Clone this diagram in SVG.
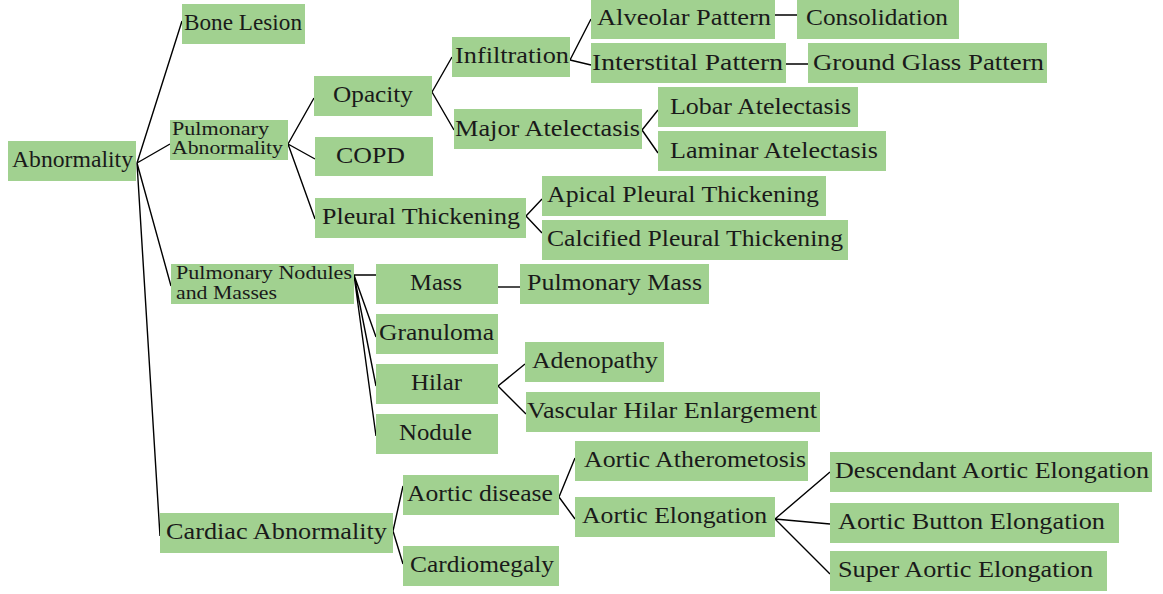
<svg xmlns="http://www.w3.org/2000/svg" width="1163" height="594" viewBox="0 0 1163 594">
<style>
rect{fill:#a1d190}
text{font-family:"Liberation Serif","Times New Roman",serif;font-size:22.5px;fill:#1a1a1a;text-anchor:middle}
text.s{font-size:18px;text-anchor:start}
#edges path{fill:none;stroke:#000;stroke-width:1.4}
</style>
<rect x="0" y="0" width="1163" height="594" style="fill:#fff"/>
<g id="edges">
<path d="M137,163 L182,21 M137,163 L170,144 M137,163 L171,286 M137,163 L160,536"/>
<path d="M288,144 L314,98 M288,144 L315,159 M288,144 L315,219"/>
<path d="M432,92 L452,57 M432,92 L454,130"/>
<path d="M570,60 L591,19 M570,60 L591,65"/>
<path d="M775,15 L797,15 M786,64 L808,64"/>
<path d="M642,130 L658,110 M642,130 L658,153"/>
<path d="M526,216 L542,199 M526,216 L542,233"/>
<path d="M354,275 L376,275 M354,275 L376,337 M354,275 L376,386 M354,275 L376,436"/>
<path d="M498,287 L520,287"/>
<path d="M498,386 L525,364 M498,386 L526,414"/>
<path d="M393,531 L403,486 M393,531 L403,564"/>
<path d="M559,497 L575,458 M559,497 L575,519"/>
<path d="M775,519 L830,472 M775,519 L830,524 M775,519 L830,574"/>
</g>
<g id="abnormality"><rect x="8" y="141" width="128" height="40"/><text x="72.5" y="167" textLength="121" lengthAdjust="spacingAndGlyphs">Abnormality</text></g>
<g id="bone-lesion"><rect x="182" y="4" width="123" height="40"/><text x="243" y="30" textLength="118" lengthAdjust="spacingAndGlyphs">Bone Lesion</text></g>
<g id="pulmonary-abnormality"><rect x="170" y="120" width="118" height="40"/><text class="s" x="172" y="135" textLength="97" lengthAdjust="spacingAndGlyphs">Pulmonary</text><text class="s" x="172" y="154" textLength="111" lengthAdjust="spacingAndGlyphs">Abnormality</text></g>
<g id="opacity"><rect x="314" y="76" width="118" height="40"/><text x="373" y="102" textLength="80" lengthAdjust="spacingAndGlyphs">Opacity</text></g>
<g id="copd"><rect x="315" y="137" width="118" height="39"/><text x="370.5" y="163" textLength="69" lengthAdjust="spacingAndGlyphs">COPD</text></g>
<g id="pleural-thickening"><rect x="315" y="198" width="211" height="40"/><text x="421" y="224" textLength="198" lengthAdjust="spacingAndGlyphs">Pleural Thickening</text></g>
<g id="infiltration"><rect x="452" y="37" width="118" height="40"/><text x="512" y="63" textLength="114" lengthAdjust="spacingAndGlyphs">Infiltration</text></g>
<g id="alveolar-pattern"><rect x="591" y="-1" width="184" height="40"/><text x="684" y="25" textLength="174" lengthAdjust="spacingAndGlyphs">Alveolar Pattern</text></g>
<g id="consolidation"><rect x="797" y="-1" width="162" height="40"/><text x="877" y="25" textLength="142" lengthAdjust="spacingAndGlyphs">Consolidation</text></g>
<g id="interstital-pattern"><rect x="591" y="43" width="195" height="40"/><text x="687.5" y="70" textLength="191" lengthAdjust="spacingAndGlyphs">Interstital Pattern</text></g>
<g id="ground-glass-pattern"><rect x="808" y="43" width="239" height="40"/><text x="928.5" y="70" textLength="231" lengthAdjust="spacingAndGlyphs">Ground Glass Pattern</text></g>
<g id="major-atelectasis"><rect x="454" y="109" width="188" height="40"/><text x="547.5" y="135.5" textLength="185" lengthAdjust="spacingAndGlyphs">Major Atelectasis</text></g>
<g id="lobar-atelectasis"><rect x="658" y="87" width="200" height="40"/><text x="760.5" y="114" textLength="181" lengthAdjust="spacingAndGlyphs">Lobar Atelectasis</text></g>
<g id="laminar-atelectasis"><rect x="658" y="131" width="228" height="40"/><text x="774" y="157.5" textLength="208" lengthAdjust="spacingAndGlyphs">Laminar Atelectasis</text></g>
<g id="apical-pleural-thickening"><rect x="542" y="176" width="284" height="40"/><text x="683" y="202" textLength="272" lengthAdjust="spacingAndGlyphs">Apical Pleural Thickening</text></g>
<g id="calcified-pleural-thickening"><rect x="542" y="220" width="306" height="40"/><text x="695" y="246" textLength="296" lengthAdjust="spacingAndGlyphs">Calcified Pleural Thickening</text></g>
<g id="pulmonary-nodules"><rect x="171" y="264" width="183" height="40"/><text class="s" x="176" y="279" textLength="176" lengthAdjust="spacingAndGlyphs">Pulmonary Nodules</text><text class="s" x="176" y="299" textLength="101" lengthAdjust="spacingAndGlyphs">and Masses</text></g>
<g id="mass"><rect x="376" y="264" width="122" height="40"/><text x="436" y="290" textLength="52" lengthAdjust="spacingAndGlyphs">Mass</text></g>
<g id="granuloma"><rect x="376" y="314" width="122" height="40"/><text x="436.5" y="340" textLength="115" lengthAdjust="spacingAndGlyphs">Granuloma</text></g>
<g id="hilar"><rect x="376" y="364" width="122" height="40"/><text x="436.5" y="390" textLength="51" lengthAdjust="spacingAndGlyphs">Hilar</text></g>
<g id="nodule"><rect x="376" y="414" width="122" height="40"/><text x="435.5" y="440" textLength="73" lengthAdjust="spacingAndGlyphs">Nodule</text></g>
<g id="pulmonary-mass"><rect x="520" y="264" width="189" height="40"/><text x="614.5" y="290" textLength="175" lengthAdjust="spacingAndGlyphs">Pulmonary Mass</text></g>
<g id="adenopathy"><rect x="525" y="342" width="139" height="40"/><text x="595" y="368" textLength="126" lengthAdjust="spacingAndGlyphs">Adenopathy</text></g>
<g id="vascular-hilar"><rect x="526" y="392" width="294" height="40"/><text x="672" y="418" textLength="290" lengthAdjust="spacingAndGlyphs">Vascular Hilar Enlargement</text></g>
<g id="cardiac-abnormality"><rect x="160" y="513" width="233" height="40"/><text x="276.5" y="539" textLength="221" lengthAdjust="spacingAndGlyphs">Cardiac Abnormality</text></g>
<g id="aortic-disease"><rect x="403" y="475" width="156" height="40"/><text x="480" y="501" textLength="146" lengthAdjust="spacingAndGlyphs">Aortic disease</text></g>
<g id="cardiomegaly"><rect x="403" y="546" width="156" height="40"/><text x="482" y="572" textLength="144" lengthAdjust="spacingAndGlyphs">Cardiomegaly</text></g>
<g id="aortic-atherometosis"><rect x="575" y="441" width="233" height="40"/><text x="695" y="467" textLength="222" lengthAdjust="spacingAndGlyphs">Aortic Atherometosis</text></g>
<g id="aortic-elongation"><rect x="575" y="497" width="200" height="40"/><text x="674.5" y="523" textLength="185" lengthAdjust="spacingAndGlyphs">Aortic Elongation</text></g>
<g id="descendant-aortic-elongation"><rect x="830" y="452" width="322" height="40"/><text x="992" y="478" textLength="314" lengthAdjust="spacingAndGlyphs">Descendant Aortic Elongation</text></g>
<g id="aortic-button-elongation"><rect x="830" y="503" width="289" height="40"/><text x="971.5" y="529" textLength="267" lengthAdjust="spacingAndGlyphs">Aortic Button Elongation</text></g>
<g id="super-aortic-elongation"><rect x="830" y="551" width="277" height="40"/><text x="965.5" y="577" textLength="255" lengthAdjust="spacingAndGlyphs">Super Aortic Elongation</text></g>
</svg>
